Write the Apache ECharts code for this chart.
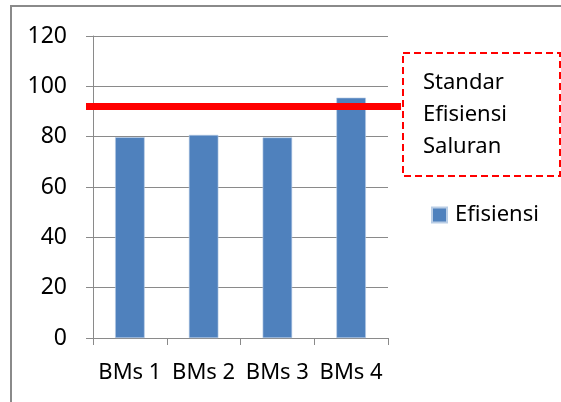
<!DOCTYPE html>
<html>
<head>
<meta charset="utf-8">
<script src="https://cdn.jsdelivr.net/npm/echarts@6/dist/echarts.min.js"></script>
<style>
  html, body { margin: 0; padding: 0; background: #fff; }
  #chart { width: 561px; height: 402px; }
</style>
</head>
<body>
<div id="chart"></div>
<script>
const categories = ["BMs 1", "BMs 2", "BMs 3", "BMs 4"];
const efisiensi = [79.8, 80.7, 79.7, 95.5];
const standar = 92; // standar efisiensi saluran
const standarLabel = ["Standar", "Efisiensi", "Saluran"];
const yMin = 0, yMax = 120, yStep = 20;

const font = "Noto Sans";
const chart = echarts.init(document.getElementById("chart"));

chart.setOption({
  animation: false,
  textStyle: { fontFamily: font },
  grid: [
    { left: 93, right: 173, top: 36, bottom: 64 },
    // grid plus large pour la ligne rouge (dépasse la zone du graphe)
    { left: 86, right: 160, top: 36, bottom: 64 },
  ],
  legend: {
    data: ["Efisiensi"],
    left: 426, top: 199,
    itemWidth: 15, itemHeight: 15, itemGap: 0,
    icon: "rect",
    textStyle: { fontSize: 22, color: "#000", fontFamily: font, padding: [0, 0, 0, 3] },
  },
  xAxis: [
    {
      type: "category", data: categories, gridIndex: 0,
      axisLine: { lineStyle: { color: "#8a8a8a", width: 1 } },
      axisTick: { show: true, length: 7, lineStyle: { color: "#8a8a8a" } },
      axisLabel: { fontSize: 22, color: "#000", margin: 24, fontFamily: font, interval: 0, hideOverlap: false },
    },
    { type: "value", gridIndex: 1, min: 0, max: 1, show: false },
  ],
  yAxis: [
    {
      type: "value", gridIndex: 0, min: yMin, max: yMax, interval: yStep,
      axisLine: { show: true, lineStyle: { color: "#8a8a8a", width: 1 } },
      axisTick: { show: true, length: 7, lineStyle: { color: "#8a8a8a" } },
      splitLine: { lineStyle: { color: "#8a8a8a", width: 1 } },
      axisLabel: { fontSize: 23, color: "#000", margin: 26, fontFamily: font },
    },
    { type: "value", gridIndex: 1, min: yMin, max: yMax, show: false },
  ],
  series: [
    {
      name: "Efisiensi", type: "bar", xAxisIndex: 0, yAxisIndex: 0,
      data: efisiensi, barWidth: "40%",
      itemStyle: { color: "#4f81bd", borderColor: "#b9cde5", borderWidth: 0.6 },
    },
    {
      name: "Standar", type: "line", xAxisIndex: 1, yAxisIndex: 1,
      data: [[0, standar], [1, standar]],
      symbol: "none",
      lineStyle: { color: "#ff0000", width: 7 },
      z: 5,
    },
  ],
  graphic: [
    {
      type: "rect", shape: { x: 11, y: 6, width: 600, height: 450 },
      style: { fill: null, stroke: "#8a8a8a", lineWidth: 2 }, silent: true,
    },
    {
      type: "rect", shape: { x: 403, y: 53, width: 157, height: 123 },
      style: { fill: null, stroke: "#ff0000", lineWidth: 2, lineDash: [7, 4] }, silent: true,
    },
    {
      type: "text", left: 423, top: 67,
      style: { text: standarLabel.join("\n"), fontSize: 22, lineHeight: 32, fill: "#000", fontFamily: font },
    },
  ],
});
</script>
</body>
</html>
